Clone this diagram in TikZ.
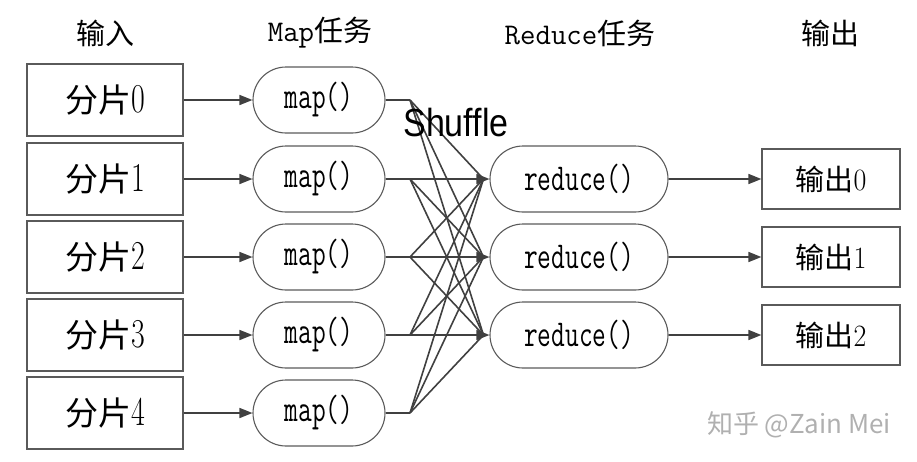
\documentclass[tikz,border=0pt]{standalone}
\usepackage{fontspec}
\usepackage{graphicx}
\newfontfamily\cjk{Noto Sans CJK SC}
\newfontfamily\sansf{Liberation Sans}
\usetikzlibrary{shapes.misc,arrows.meta}
\definecolor{boxc}{HTML}{5A5A5A}
\definecolor{linec}{HTML}{404040}
\definecolor{wmc}{HTML}{B0B0B0}
% condensed latin text: #1 size, #2 xscale, #3 text
\newcommand{\condtxt}[3]{\scalebox{#2}[1]{\fontsize{#1}{#1}\selectfont #3}}
\begin{document}
\begin{tikzpicture}[x=1pt,y=-1pt,
  inbox/.style={draw=boxc, line width=1.2pt, minimum width=156pt, minimum height=72pt, inner sep=0pt, font=\fontsize{33}{33}\selectfont},
  outbox/.style={draw=boxc, line width=1.2pt, minimum width=138pt, minimum height=60pt, inner sep=0pt, font=\fontsize{29}{29}\selectfont},
  pill/.style={draw=boxc, line width=1.1pt, rounded rectangle, minimum width=132pt, minimum height=66pt, inner sep=0pt, font=\ttfamily},
  rpill/.style={pill, minimum width=178pt},
  head/.style={font=\fontsize{29}{29}\selectfont, inner sep=0pt},
  arr/.style={draw=linec, line width=1.6pt, -{Triangle[length=13pt,width=10pt]}},
  seg/.style={draw=linec, line width=1.6pt}
]
\useasboundingbox (0,0) rectangle (917,461);
% headers
\node[head] (h1) at (105,33) {\cjk 输入};
\node[head] (h2) at (320,33) {{\ttfamily\fontsize{30}{30}\selectfont Map}{\cjk 任务}};
\node[head] (h3) at (580,33) {{\ttfamily\fontsize{30}{30}\selectfont Reduce}{\cjk 任务}};
\node[head] (h4) at (830,33) {\cjk 输出};
% inputs and maps
\foreach \i/\y in {0/100,1/179,2/257,3/335,4/413}{
  \node[inbox] (in\i) at (105,\y) {{\cjk 分片}\condtxt{41}{0.73}{\i}};
  \node[pill] (m\i) at (319,\y) {\condtxt{38}{0.7}{\ttfamily map()}};
  \coordinate (j\i) at (410,\y);
  \draw[arr] (in\i) -- (m\i);
  \draw[seg] (m\i.east) -- (j\i);
}
% reduces and outputs
\foreach \k/\y in {0/179,1/257,2/335}{
  \node[rpill] (r\k) at (579,\y) {\condtxt{38}{0.7}{\ttfamily reduce()}};
  \node[outbox] (o\k) at (831,\y) {{\cjk 输出}\condtxt{31}{0.9}{\k}};
  \draw[arr] (r\k) -- (o\k);
  \coordinate (t\k) at ([xshift=-6pt]r\k.west);
}
% shuffle
\draw[arr] (j1) -- (r0.west);
\draw[arr] (j2) -- (r1.west);
\draw[arr] (j3) -- (r2.west);
\foreach \i in {0,...,4}{
  \foreach \k in {0,1,2}{
    \draw[seg] (j\i) -- (t\k);
  }
}
\node[font=\sansf\fontsize{34}{34}\selectfont, inner sep=0pt, yscale=1.15] (sh) at (456,123) {Shuffle};
\node[font=\cjk\fontsize{26}{26}\selectfont, text=wmc, inner sep=0pt] (wm) at (799,425) {知乎 @Zain Mei};
\end{tikzpicture}
\end{document}
